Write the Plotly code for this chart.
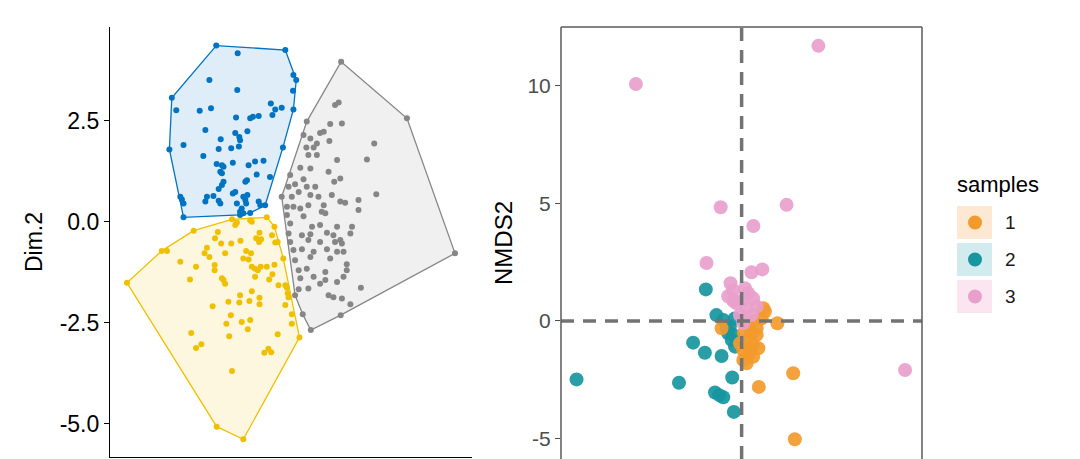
import plotly.graph_objects as go
from plotly.subplots import make_subplots

# ---- left panel: k-means clusters on Dim.1 / Dim.2 ----
blue_x = [-1.83, -1.30, -0.12, 0.08, 0.15, -2.00, -1.31, 0.07, -2.93, -2.82, -2.24, -1.96, -0.48, -0.37,
          -0.21, -0.44, 0.08, -1.34, -0.99, -0.92, -0.78, -2.10, -1.36, -1.06, -1.26, -1.24, -1.72, -2.99,
          -2.64, -1.77, -1.46, -1.27, -0.18, -2.15, -1.82, -1.69, -1.65, -1.42, -1.03, -0.87, -0.66, -1.73,
          -1.69, -0.83, -0.50, -1.65, -1.69, -1.77, -1.11, -1.07, -1.42, -1.36, -1.06, -1.90, -2.06, -2.10,
          -2.72, -2.68, -2.64, -1.16, -1.11, -1.09, -1.32, -0.78, -0.74, -0.62, -1.73, -1.77, -1.20, -1.24,
          -1.16, -0.99, -1.24, -2.64]
blue_y = [4.36, 4.17, 4.25, 3.63, 3.51, 3.51, 3.26, 3.24, 3.07, 2.76, 2.75, 2.81, 2.93, 2.78,
          2.82, 2.64, 2.78, 2.58, 2.56, 2.60, 2.62, 2.27, 2.20, 2.24, 2.10, 2.02, 2.04, 1.79,
          1.90, 1.80, 1.82, 1.86, 1.84, 1.63, 1.43, 1.40, 1.36, 1.46, 1.40, 1.49, 1.51, 1.24,
          1.20, 1.17, 1.11, 0.99, 0.91, 0.81, 0.99, 1.03, 0.70, 0.74, 0.66, 0.64, 0.62, 0.50,
          0.62, 0.55, 0.45, 0.62, 0.54, 0.45, 0.45, 0.50, 0.41, 0.41, 0.45, 0.52, 0.33, 0.25,
          0.21, 0.22, 0.17, 0.11]

yellow_x = [-4.04, -3.18, -3.05, -2.39, -1.44, -1.36, -1.32, -0.99, -0.95, -0.58, -0.39, -1.79, -1.86,
            -1.71, -1.46, -1.23, -0.76, -0.84, -0.77, -0.72, -0.45, -0.37, -0.31, -2.06, -2.12, -2.00,
            -1.61, -1.09, -0.97, -1.16, -1.03, -2.72, -2.33, -1.87, -1.87, -0.95, -0.87, -0.80, -0.73,
            -0.58, -0.39, -0.17, -2.48, -1.69, -1.65, -1.61, -0.87, -0.52, -0.44, -0.29, -0.12, -0.08,
            -0.06, -0.04, -1.24, -0.95, -0.76, -1.53, -1.26, -1.01, -0.76, -1.92, -0.12, 0.04, 0.04,
            -1.47, -1.58, -1.20, -0.99, -1.05, -2.45, -1.51, -0.31, 0.23, -2.20, -2.33, -0.64, -0.54,
            -0.47, -1.44, -1.82, -1.16]
yellow_y = [-1.51, -0.72, -0.72, -0.22, 0.06, -0.08, -0.02, 0.04, 0.00, 0.11, -0.12, -0.25, -0.41,
            -0.54, -0.54, -0.47, -0.27, -0.41, -0.50, -0.43, -0.33, -0.51, -0.50, -0.64, -0.78, -0.87,
            -0.78, -0.72, -0.78, -0.91, -0.93, -0.99, -1.11, -1.07, -1.20, -1.11, -1.16, -1.20, -1.11,
            -1.11, -1.06, -0.91, -1.43, -1.40, -1.44, -1.53, -1.36, -1.43, -1.30, -1.57, -1.57, -1.63,
            -1.77, -1.87, -1.82, -1.72, -1.88, -1.98, -2.00, -1.96, -2.04, -2.09, -2.06, -2.29, -2.52,
            -2.31, -2.52, -2.48, -2.43, -2.66, -2.75, -2.83, -2.78, -2.86, -3.03, -3.12, -3.24, -3.14,
            -3.23, -3.69, -5.07, -5.38]

gray_x = [1.26, 1.11, 1.20, 2.89, 0.41, 0.99, 1.28, 0.33, 0.74, 0.83, 0.50, 0.97, 2.08, 0.40, 0.58,
          0.66, 1.90, 0.45, 0.66, 1.16, 0.25, 0.50, 0.95, 0.00, 0.12, 0.33, 0.41, 0.62, 1.09, 1.24,
          -0.21, -0.04, 0.21, 0.04, 0.08, 0.50, 0.70, 1.03, 2.13, -0.08, 0.25, 0.45, 0.83, 1.24, 1.36,
          1.69, 1.69, -0.08, 0.33, 0.78, 0.87, 0.00, 0.54, 0.74, 1.16, 1.53, -0.04, 0.29, 0.50, 0.91,
          1.07, 1.24, 1.49, 0.00, 0.45, 0.74, 1.11, 1.28, 0.08, 0.29, 0.58, 0.91, 1.16, 1.32, 0.50,
          0.12, 0.99, 1.40, 0.21, 0.41, 0.87, 1.40, 0.25, 0.58, 0.87, 1.16, 1.32, 0.21, 0.45, 0.74,
          1.75, 0.12, 0.95, 1.07, 1.28, 1.49, 0.31, 1.25, 0.51, 4.08]
gray_y = [3.96, 2.89, 2.95, 2.56, 2.48, 2.42, 2.43, 2.15, 2.20, 2.23, 2.06, 2.00, 1.94, 1.84, 1.84,
          1.94, 1.54, 1.65, 1.65, 1.53, 1.34, 1.32, 1.24, 1.16, 0.93, 1.05, 0.87, 0.87, 0.99, 1.07,
          0.62, 0.87, 0.74, 0.62, 0.37, 0.66, 0.62, 0.66, 0.68, 0.37, 0.33, 0.41, 0.41, 0.50, 0.47,
          0.54, 0.29, 0.17, 0.14, 0.25, 0.21, -0.04, -0.12, -0.08, -0.12, -0.12, -0.29, -0.33, -0.31, -0.27,
          -0.33, -0.45, -0.29, -0.50, -0.45, -0.50, -0.50, -0.54, -0.70, -0.68, -0.74, -0.68, -0.74, -0.74, -0.87,
          -0.95, -0.91, -1.05, -1.20, -1.16, -1.24, -1.20, -1.40, -1.36, -1.44, -1.49, -1.36, -1.67, -1.65, -1.53,
          -1.63, -1.82, -1.82, -1.87, -1.90, -2.04, -2.29, -2.31, -2.68, -0.78]

# ---- right panel: NMDS by sample ----
s1_x = [0.99, 0.85, 1.52, -0.85, 0.64, 0.42, 0.64, 0.21, -0.07, 0.49, 0.71, 0.07, 0.28, 0.49, 0.21,
        0.07, 0.35, 0.92, 0.25, 0.50, 0.10, 2.19, 0.73, 2.26]
s1_y = [0.40, 0.11, -0.10, -0.31, -0.31, -0.52, -0.59, -0.81, -0.95, -1.02, -1.16, -1.23, -1.44, -1.52,
        -1.80, -1.66, -1.23, 0.54, -0.20, 0.00, -0.50, -2.22, -2.80, -5.02]
s2_x = [-7.01, -2.66, -2.06, -1.56, -1.52, -1.07, -0.78, -0.50, -0.57, -0.42, -0.28, -0.85, -0.40,
        -1.13, -0.95, -0.78, -0.33, -0.64, -0.35, -0.30]
s2_y = [-2.48, -2.62, -0.92, -1.35, 1.34, 0.25, 0.04, -0.24, -0.52, -0.81, -1.09, -1.49, -2.40,
        -3.04, -3.15, -3.24, -3.86, -0.30, -0.60, 0.10]
s3_x = [-4.49, 3.26, -0.89, 1.91, 0.50, -1.49, 0.42, 0.88, -0.47, -0.36, 0.14, 0.28, -0.57, 0.07,
        0.49, -0.21, 0.21, 0.64, -0.35, -0.07, 0.42, 0.07, 6.94]
s3_y = [10.06, 11.68, 4.83, 4.93, 4.03, 2.46, 2.07, 2.19, 1.60, 1.30, 1.39, 1.18, 1.05, 0.89,
        0.96, 0.75, 0.54, 0.61, 0.85, 0.25, 0.25, -0.10, -2.08]

sample_names = ["1", "2", "3"]

FONT = "Liberation Sans, Arial, sans-serif"


def convex_hull(xs, ys):
    pts = sorted(set(zip(xs, ys)))

    def cross(o, a, b):
        return (a[0] - o[0]) * (b[1] - o[1]) - (a[1] - o[1]) * (b[0] - o[0])

    lower, upper = [], []
    for p in pts:
        while len(lower) >= 2 and cross(lower[-2], lower[-1], p) <= 0:
            lower.pop()
        lower.append(p)
    for p in reversed(pts):
        while len(upper) >= 2 and cross(upper[-2], upper[-1], p) <= 0:
            upper.pop()
        upper.append(p)
    h = lower[:-1] + upper[:-1]
    h.append(h[0])
    return [p[0] for p in h], [p[1] for p in h]


fig = make_subplots(rows=1, cols=2)

clusters = [(blue_x, blue_y, "#0073C2", "rgba(0,115,194,0.13)"),
            (yellow_x, yellow_y, "#EFC000", "rgba(239,192,0,0.12)"),
            (gray_x, gray_y, "#868686", "rgba(134,134,134,0.12)")]
for xs, ys, col, fill in clusters:
    hx, hy = convex_hull(xs, ys)
    fig.add_trace(go.Scatter(x=hx, y=hy, mode="lines", fill="toself", fillcolor=fill,
                             line=dict(color=col, width=1.3), hoverinfo="skip"), row=1, col=1)
for xs, ys, col, fill in clusters:
    fig.add_trace(go.Scatter(x=xs, y=ys, mode="markers",
                             marker=dict(color=col, size=6)), row=1, col=1)

colors = {"1": "#F39A2C", "2": "#17969F", "3": "#E8A0CB"}
for name, xs, ys in [("2", s2_x, s2_y), ("1", s1_x, s1_y), ("3", s3_x, s3_y)]:
    fig.add_trace(go.Scatter(x=xs, y=ys, mode="markers", name=name,
                             marker=dict(color=colors[name], size=14, opacity=0.92)), row=1, col=2)

fig.update_layout(
    width=1080, height=459, showlegend=False,
    margin=dict(l=0, r=0, t=27, b=0, autoexpand=False),
    plot_bgcolor="white", paper_bgcolor="white",
    font=dict(family=FONT, color="black"),
    xaxis=dict(domain=[110 / 1080, 472 / 1080], range=[-4.46, 4.50], showgrid=False, zeroline=False,
               showline=True, linecolor="black", linewidth=1.2, showticklabels=False, ticks="",
               automargin=False),
    yaxis=dict(domain=[2 / 432, 1], range=[-5.82, 4.82], showgrid=False, zeroline=False,
               showline=True, linecolor="black", linewidth=1.2, automargin=False,
               tickvals=[2.5, 0, -2.5, -5], ticktext=["2.5", "0.0", "-2.5", "-5.0"],
               ticks="outside", ticklen=5, tickcolor="black", tickwidth=1.2,
               tickfont=dict(size=23, color="black"),
               title=dict(text="Dim.2", font=dict(size=23, color="black"), standoff=10)),
    xaxis2=dict(domain=[561 / 1080, 922 / 1080], range=[-7.67, 7.66], showgrid=False, zeroline=False,
                showline=False, showticklabels=False, ticks="", automargin=False),
    yaxis2=dict(domain=[0, 1], range=[-5.86, 12.48], showgrid=False, zeroline=False,
                showline=False, automargin=False, tickvals=[10, 5, 0, -5], ticktext=["10", "5", "0", "-5"],
                ticks="outside", ticklen=5, tickcolor="#4D4D4D", tickwidth=1.2,
                tickfont=dict(size=21, color="#4D4D4D"),
                title=dict(text="NMDS2", font=dict(size=24, color="black"), standoff=8)),
)

# dashed reference lines at 0
dash = dict(color="#737373", width=3.5, dash="13px,9px")
fig.add_shape(type="line", xref="x2", yref="y2 domain", x0=0, x1=0, y0=0, y1=1, line=dash)
fig.add_shape(type="line", xref="x2 domain", yref="y2", x0=0, x1=1, y0=0, y1=0, line=dash)

# panel border (bottom edge is outside the picture)
border = dict(color="#5A5A5A", width=1.5)
fig.add_shape(type="line", xref="x2 domain", yref="y2 domain", x0=0, x1=0, y0=0, y1=1, line=border)
fig.add_shape(type="line", xref="x2 domain", yref="y2 domain", x0=0, x1=1, y0=1, y1=1, line=border)
fig.add_shape(type="line", xref="x2 domain", yref="y2 domain", x0=1, x1=1, y0=0, y1=1, line=border)

# legend drawn by hand, ggplot style with tinted key boxes
key_bg = {"1": "#FCE8D3", "2": "#D2EBEE", "3": "#FAE5F0"}
fig.add_annotation(xref="paper", yref="paper", x=955 / 1080, y=(459 - 184) / 432, text="samples",
                   showarrow=False, xanchor="left", yanchor="middle",
                   font=dict(size=22, color="black", family=FONT))
for i, name in enumerate(sample_names):
    top = 206 + i * 37
    bot = top + 33
    fig.add_shape(type="rect", xref="paper", yref="paper", x0=957 / 1080, x1=992 / 1080,
                  y0=(459 - bot) / 432, y1=(459 - top) / 432, line=dict(width=0), fillcolor=key_bg[name])
    cy = (top + bot) / 2
    fig.add_shape(type="circle", xref="paper", yref="paper", x0=968 / 1080, x1=982 / 1080,
                  y0=(459 - cy - 7) / 432, y1=(459 - cy + 7) / 432, line=dict(width=0),
                  fillcolor=colors[name])
    fig.add_annotation(xref="paper", yref="paper", x=1003 / 1080, y=(459 - cy) / 432, text=name,
                       showarrow=False, xanchor="left", yanchor="middle",
                       font=dict(size=19, color="#1A1A1A", family=FONT))

# the page's default body margin would shift the figure by 8px
fig.write_html("out.html", config={"displayModeBar": False},
               post_script="document.body.style.margin='0';")
